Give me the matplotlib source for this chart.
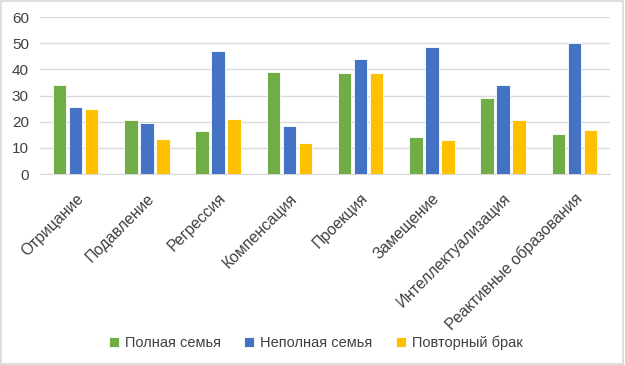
import numpy as np
import matplotlib
matplotlib.use('Agg')
from matplotlib import pyplot as plt
from matplotlib.patches import Rectangle

categories = ['Отрицание', 'Подавление', 'Регрессия', 'Компенсация', 'Проекция',
              'Замещение', 'Интеллектуализация', 'Реактивные образования']
series_names = ['Полная семья', 'Неполная семья', 'Повторный брак']
full_family = [34, 20.5, 16.3, 39, 38.5, 14, 29, 15.4]
single_parent = [25.5, 19.4, 47, 18.3, 44, 48.4, 34, 50]
remarriage = [25, 13.5, 21, 12, 38.5, 13, 20.5, 16.8]
colors = ['#70AD47', '#4472C4', '#FFC000']

plt.rcParams['font.family'] = ['Liberation Sans', 'DejaVu Sans']

fig = plt.figure(figsize=(6.25, 3.65), dpi=100)
ax = fig.add_axes([0.064, 0.523, 0.912, 0.430])

x = np.arange(len(categories))
step = 0.225
width = 0.19
for i, (vals, name) in enumerate(zip([full_family, single_parent, remarriage], series_names)):
  ax.bar(x + (i - 1) * step, vals, width, color=colors[i], label=name,
         edgecolor='white', linewidth=0.6, zorder=3)

ax.set_xlim(-0.5, len(categories) - 0.5)
ax.set_ylim(0, 60)
ax.set_yticks(range(0, 61, 10))
ax.yaxis.grid(True, color='#d9d9d9', linewidth=1, zorder=0)
for s in ['top', 'right', 'left']:
  ax.spines[s].set_visible(False)
ax.spines['bottom'].set_color('#d9d9d9')
ax.tick_params(axis='both', length=0, colors='#404040', labelsize=11)
ax.tick_params(axis='y', pad=8)
ax.set_xticks(x)
ax.set_xticklabels(categories, rotation=45, ha='right', rotation_mode='anchor', fontsize=11.3)
ax.tick_params(axis='x', pad=12)

fig.legend(loc='center', bbox_to_anchor=(0.505, 0.06), ncol=3, frameon=False,
           fontsize=10.5, handlelength=0.7, handleheight=0.7, handletextpad=0.4,
           columnspacing=1.6, labelcolor='#404040')

# рамка диаграммы
fig.patches.append(Rectangle((0.002, 0.003), 0.995, 0.994, transform=fig.transFigure,
                             fill=False, edgecolor='#d9d9d9', linewidth=1.2))

fig.savefig('out.png', dpi=100)
